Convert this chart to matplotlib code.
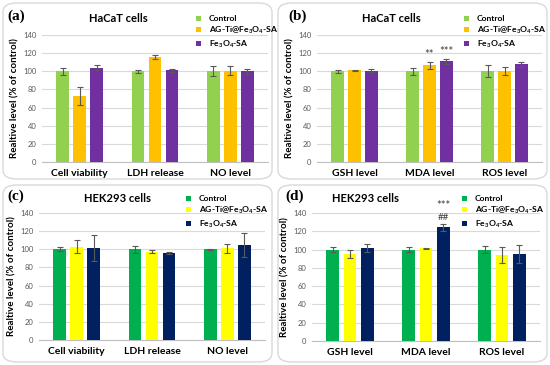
import matplotlib
matplotlib.use("Agg")
import matplotlib.pyplot as plt
from matplotlib.patches import FancyBboxPatch, Patch
import numpy as np

plt.rcParams['font.family'] = ['Lato', 'DejaVu Sans']
plt.rcParams['mathtext.fontset'] = 'custom'
plt.rcParams['mathtext.rm'] = 'Lato:bold'
plt.rcParams['mathtext.it'] = 'Lato:bold:italic'
plt.rcParams['mathtext.bf'] = 'Lato:bold'

W, H = 550, 365

series_names = ['Control', 'AG-Ti@Fe$_3$O$_4$-SA', 'Fe$_3$O$_4$-SA']
cats_ac = ['Cell viability', 'LDH release', 'NO level']
cats_bd = ['GSH level', 'MDA level', 'ROS level']

colors_hacat = ['#92D050', '#FFC000', '#7030A0']
colors_hek = ['#00B050', '#FFFF00', '#002060']

# panel (a)
a_vals = [[100, 100, 100], [73, 115.5, 100.5], [104, 101, 100]]
a_err = [[4, 1.5, 5.5], [10, 2, 5], [3, 1.5, 3]]
# panel (b)
b_vals = [[100, 100, 100], [101, 106.5, 100], [100.5, 111, 107.5]]
b_err = [[1.5, 4, 6.5], [0.5, 3.5, 4.5], [1.5, 3, 2.5]]
# panel (c)
c_vals = [[100, 100, 100], [103, 97.5, 101], [101.5, 96, 104.5]]
c_err = [[2, 4, 0.5], [7.5, 2, 5], [14, 1.5, 13]]
# panel (d)
d_vals = [[100, 100, 100], [95, 101.5, 94], [102, 124.5, 95]]
d_err = [[3, 3, 4], [4.5, 0.5, 9], [4.5, 4, 10]]

fig = plt.figure(figsize=(W / 100, H / 100), dpi=100)
fig.patch.set_facecolor('white')


def px_axes(x0, x1, y_top, y_bot):
    return fig.add_axes([x0 / W, 1 - y_bot / H, (x1 - x0) / W, (y_bot - y_top) / H])


def box(x0, y0, x1, y1):
    p = FancyBboxPatch((x0 / W, 1 - y1 / H), (x1 - x0) / W, (y1 - y0) / H,
                       boxstyle="round,pad=0,rounding_size=0.025",
                       transform=fig.transFigure, facecolor='white',
                       edgecolor='#D9D9D9', linewidth=1.0, zorder=-10)
    fig.patches.append(p)


def panel(ax, cats, vals, errs, colors, title, letter, bx, by, tx, lx):
    x = np.arange(len(cats))
    width = 0.17
    step = 0.225
    for i in range(3):
        ax.bar(x + (i - 1) * step, vals[i], width, color=colors[i], zorder=3,
               yerr=errs[i], error_kw=dict(ecolor='#595959', elinewidth=0.8,
                                           capsize=2.2, capthick=0.8, zorder=4))
    ax.set_ylim(0, 140)
    ax.set_xlim(-0.5, 2.5)
    ax.set_yticks(np.arange(0, 141, 20))
    ax.yaxis.grid(True, color='#D9D9D9', linewidth=0.8, zorder=0)
    ax.set_axisbelow(True)
    for s in ['top', 'right', 'left']:
        ax.spines[s].set_visible(False)
    ax.spines['bottom'].set_color('#BFBFBF')
    ax.spines['bottom'].set_linewidth(0.8)
    ax.tick_params(axis='y', length=0, labelsize=5.5, labelcolor='#595959', pad=4)
    ax.tick_params(axis='x', length=0, labelsize=7.5, pad=5)
    ax.set_xticks(x)
    ax.set_xticklabels(cats, fontweight='bold')
    ax.set_ylabel('Realtive level (% of control)', fontsize=7, fontweight='bold', labelpad=3)
    # letter and title
    fig.text(bx / W, 1 - by / H, letter, fontsize=11, fontweight='bold',
             family='Liberation Serif', ha='left', va='center')
    fig.text(tx / W, 1 - (by + 3) / H, title, fontsize=8, fontweight='bold',
             ha='center', va='center')
    handles = [Patch(facecolor=c, edgecolor='none') for c in colors]
    ax.legend(handles, series_names, loc='upper left',
              bbox_to_anchor=(lx / W, 1 - (by - 5) / H),
              bbox_transform=fig.transFigure, frameon=False,
              prop=dict(size=6.1, weight='bold'), handlelength=0.6,
              handleheight=0.6, handletextpad=0.9, labelspacing=0.3,
              borderpad=0)
    return x, step


box(3, 3, 272, 179)
box(278, 3, 547, 179)
box(3, 185, 272, 362)
box(278, 185, 547, 362)

axa = px_axes(42, 268, 35, 162)
panel(axa, cats_ac, a_vals, a_err, colors_hacat, 'HaCaT cells', '(a)', 7, 16, 118, 192)

axb = px_axes(317, 542, 35, 162)
xb, stepb = panel(axb, cats_bd, b_vals, b_err, colors_hacat, 'HaCaT cells', '(b)', 288, 16, 391, 460)
axb.text(xb[1], b_vals[1][1] + b_err[1][1] + 2, '**', ha='center', va='bottom',
         fontsize=8, color='#404040')
axb.text(xb[1] + stepb, b_vals[2][1] + b_err[2][1] + 2, '***', ha='center', va='bottom',
         fontsize=8, color='#404040')

axc = px_axes(39, 265, 213, 340)
panel(axc, cats_ac, c_vals, c_err, colors_hek, 'HEK293 cells', '(c)', 7, 196, 117, 182)

axd = px_axes(312, 540, 213, 341)
xd, stepd = panel(axd, cats_bd, d_vals, d_err, colors_hek, 'HEK293 cells', '(d)', 285, 196, 366, 458)
axd.text(xd[1] + stepd, d_vals[2][1] + d_err[2][1] + 2, '##', ha='center', va='bottom',
         fontsize=7, color='#404040', clip_on=False)
axd.text(xd[1] + stepd, d_vals[2][1] + d_err[2][1] + 14, '***', ha='center', va='bottom',
         fontsize=8, color='#404040', clip_on=False)

fig.savefig('out.png', dpi=100)
